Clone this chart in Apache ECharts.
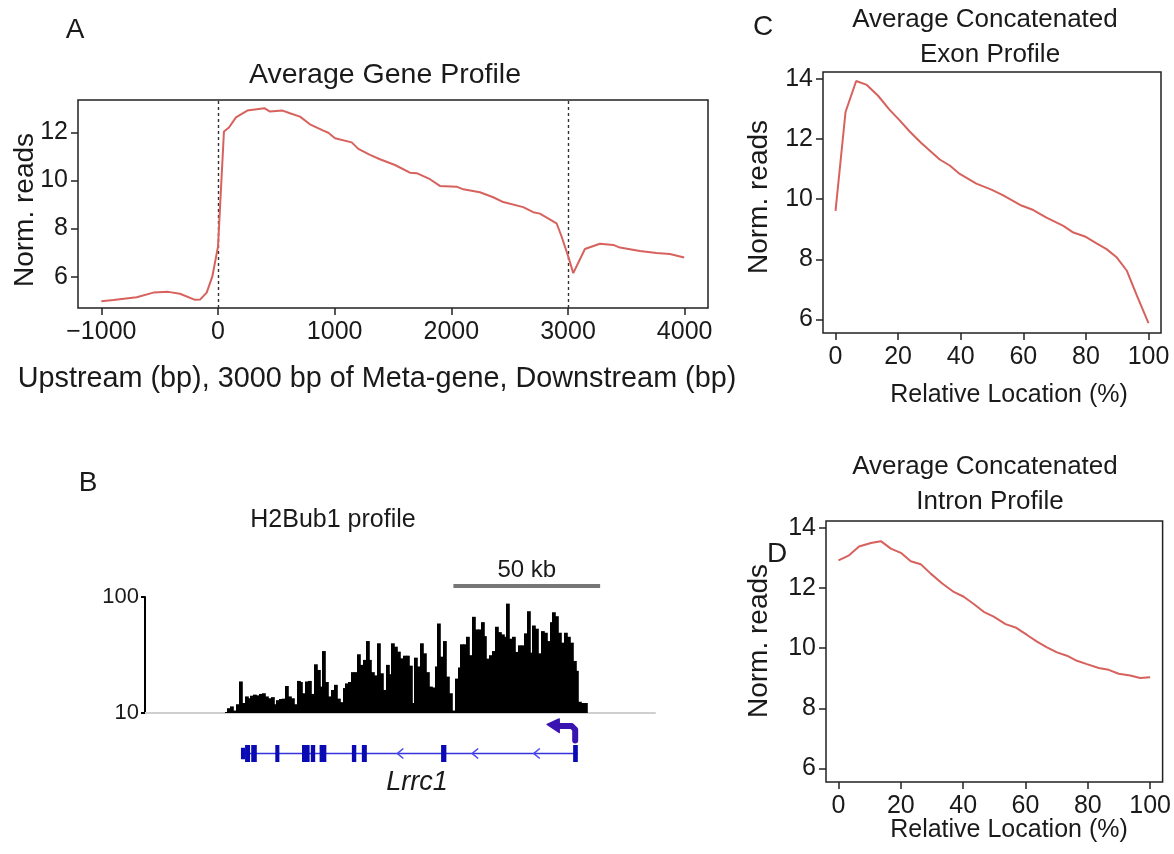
<!DOCTYPE html>
<html><head><meta charset="utf-8">
<script src="https://cdn.jsdelivr.net/npm/echarts@6/dist/echarts.min.js"></script>
<style>html,body{margin:0;padding:0;background:#fff}#c{width:1174px;height:854px}</style>
</head><body><div id="c"></div>
<script>
// ---- Panel A: Average Gene Profile ----
const geneProfileX = [-1000,-897,-697,-554,-426,-326,-197,-154,-97,-49,0,51,94,154,251,397,446,554,617,703,788,903,946,1003,1146,1203,1303,1388,1517,1645,1703,1817,1902,2045,2102,2245,2359,2445,2616,2702,2759,2902,2945,3002,3045,3145,3273,3388,3445,3616,3759,3873,3996];
const geneProfileY = [4.98,5.03,5.15,5.34,5.37,5.29,5.04,5.05,5.34,6.0,7.25,12.03,12.2,12.62,12.9,13.0,12.86,12.9,12.79,12.65,12.33,12.07,11.98,11.75,11.58,11.31,11.06,10.88,10.64,10.32,10.3,10.05,9.77,9.74,9.63,9.51,9.30,9.10,8.89,8.68,8.62,8.22,7.67,6.84,6.15,7.15,7.37,7.32,7.21,7.07,6.98,6.94,6.80];
const geneTicksX = [-1000,0,1000,2000,3000,4000];
const geneTicksY = [6,8,10,12];
const geneBoundaries = [0,3000];

// ---- Panel C: Exon profile ----
const exonX = [0,3.2,6.6,10.0,13.6,17.3,20.5,23.7,27.4,33.3,36.5,39.7,45.0,49.8,53.6,59.4,63.2,67.4,72.8,76.0,79.7,83.4,86.6,89.9,93.1,96.3,100];
const exonY = [9.61,12.9,13.93,13.80,13.44,12.97,12.62,12.25,11.87,11.32,11.12,10.84,10.52,10.32,10.13,9.79,9.64,9.39,9.11,8.89,8.76,8.53,8.34,8.06,7.62,6.79,5.88];

// ---- Panel D: Intron profile ----
const intronX = [0,3.4,6.6,10.4,13.6,16.8,20.2,23.2,26.4,29.6,33.3,37.0,40.2,43.4,46.6,49.8,53.6,56.8,60.5,63.7,66.9,70.1,73.3,76.5,79.7,83.5,86.7,89.9,93.6,96.8,100];
const intronY = [12.92,13.09,13.38,13.50,13.56,13.31,13.16,12.89,12.79,12.48,12.15,11.87,11.71,11.47,11.21,11.05,10.80,10.69,10.44,10.22,10.03,9.86,9.75,9.58,9.47,9.34,9.28,9.15,9.09,9.01,9.03];
const relTicksX = [0,20,40,60,80,100];
const relTicksY = [6,8,10,12,14];

// ---- Panel B: H2Bub1 profile track (1-kb bins, reads) ----
const trackStartKb = 27.3;
const trackBinKb = 0.98;
const trackReads = [10.2,11.0,11.4,10.5,11.9,18.7,12.2,13.9,13.4,14.1,14.4,14.2,14.6,14.8,13.9,13.4,13.7,11.9,12.9,13.2,13.3,17.1,13.9,13.4,11.9,18.9,18.5,14.8,18.7,18.9,14.6,26.3,23.5,16.9,34.2,18.5,13.9,15.8,17.5,
 13.3,12.4,16.4,18.0,18.5,22.5,22.5,32.1,26.0,28.7,41.7,28.7,22.5,21.1,39.9,22.0,15.8,26.0,21.6,39.9,37.3,33.8,29.6,31.2,31.2,25.6,12.2,30.0,25.2,39.9,32.7,22.5,16.9,16.6,25.2,59.1,30.6,41.7,20.6,14.8,10.5,19.8,
 24.7,39.1,39.1,45.4,31.5,67.5,52.5,52.5,60.7,46.0,29.4,31.5,34.2,55.4,49.8,47.6,45.4,87.7,43.7,45.4,33.6,38.3,38.3,48.6,75.4,33.1,56.8,53.3,32.7,50.8,49.2,41.7,60.7,73.9,68.3,49.2,40.4,49.2,45.4,40.4,28.1,23.1,12.5,12.2,12.2];
const trackTicks = [10,100];
const trackSpanKb = 173.8;
const scaleBarKb = [105.1,155.1];
const scaleBarLabel = '50 kb';
// Lrrc1 gene model (kb)
const exonStartKb = [32.7,34.1,36.2,44.4,53.5,56.5,59.5,70.5,73.9,100.9,145.9];
const exonEndKb   = [34.1,35.8,38.1,45.8,56.1,58.0,61.8,72.0,75.6,102.7,147.5];
const exonIsUTR   = [1,0,0,0,0,0,0,0,0,0,0];
const strandArrowKb = [86.0,111.5,132.5];
const tssKb = 146.6;
const geneName = 'Lrrc1';

const FONT = '"Liberation Sans", Arial, sans-serif';
const RED = '#d7625d';
const INK = '#1a1a1a';
const TICK_FS = 25;

const chart = echarts.init(document.getElementById('c'));
const plain = v => (v < 0 ? '\u2212' + String(-v) : String(v));

function boxGrid(left, top, width, height){
  return {left, top, width, height, show:true, borderColor:'#222', borderWidth:1.5, backgroundColor:'transparent', containLabel:false};
}
function valAxisX(gi, min, max, ticks){
  return {gridIndex:gi, type:'value', min, max,
    axisLine:{show:false, onZero:false}, splitLine:{show:false},
    axisTick:{show:true, length:7, customValues:ticks, lineStyle:{color:'#222', width:1.5}},
    axisLabel:{customValues:ticks, formatter:plain, fontSize:TICK_FS, fontFamily:FONT, color:INK, margin:12}};
}
function valAxisY(gi, min, max, ticks){
  return {gridIndex:gi, type:'value', min, max,
    axisLine:{show:false, onZero:false}, splitLine:{show:false},
    axisTick:{show:true, length:7, customValues:ticks, lineStyle:{color:'#222', width:1.5}},
    axisLabel:{customValues:ticks, formatter:plain, fontSize:TICK_FS, fontFamily:FONT, color:INK, margin:10}};
}
const pairs = (xs, ys) => xs.map((x,i)=>[x, ys[i]]);

function txt(text, x, y, size, opts){
  opts = opts || {};
  return {type:'text', x, y, rotation: opts.rot || 0, silent:true,
    style:{text, fill: opts.color || INK, fontSize:size, fontFamily:FONT, fontStyle: opts.italic ? 'italic':'normal',
      align:'center', verticalAlign:'middle', textAlign:'center', textVerticalAlign:'middle'}};
}

const option = {
  animation:false,
  backgroundColor:'#fff',
  grid:[
    boxGrid(78,100,630,208),      // 0 A
    boxGrid(823,72,338,261),      // 1 C
    boxGrid(826,521,337,261),     // 2 D
    {left:145, top:597, width:510, height:116, show:false}, // 3 B track
    {left:145, top:738, width:510, height:31, show:false},  // 4 gene model
    {left:145, top:560, width:510, height:30, show:false}   // 5 scale bar
  ],
  xAxis:[
    valAxisX(0,-1200,4200,geneTicksX),
    valAxisX(1,-4,104,relTicksX),
    valAxisX(2,-4,104,relTicksX),
    {gridIndex:3, type:'value', min:0, max:trackSpanKb, axisLine:{show:true, onZero:false, lineStyle:{color:'#cfcfcf', width:2}}, axisTick:{show:false}, axisLabel:{show:false}, splitLine:{show:false}},
    {gridIndex:4, type:'value', min:0, max:trackSpanKb, show:false},
    {gridIndex:5, type:'value', min:0, max:trackSpanKb, show:false}
  ],
  yAxis:[
    valAxisY(0,4.70,13.34,geneTicksY),
    valAxisY(1,5.55,14.23,relTicksY),
    valAxisY(2,5.55,14.23,relTicksY),
    {gridIndex:3, type:'log', logBase:10, min:10, max:100,
      axisLine:{show:true, onZero:false, lineStyle:{color:'#000', width:2}},
      axisTick:{show:true, length:4, customValues:trackTicks, lineStyle:{color:'#000', width:2}},
      axisLabel:{customValues:trackTicks, formatter:plain, fontSize:22, fontFamily:FONT, color:INK, margin:6},
      splitLine:{show:false}},
    {gridIndex:4, type:'value', min:0, max:1, show:false},
    {gridIndex:5, type:'value', min:0, max:1, show:false}
  ],
  series:[
    {type:'line', xAxisIndex:0, yAxisIndex:0, data:pairs(geneProfileX, geneProfileY), showSymbol:false, symbol:'none',
      lineStyle:{color:RED, width:2}, z:5,
      markLine:{silent:true, symbol:'none', label:{show:false},
        lineStyle:{color:'#333', type:[3,3], width:1.4},
        data: geneBoundaries.map(v=>({xAxis:v}))}},
    {type:'line', xAxisIndex:1, yAxisIndex:1, data:pairs(exonX, exonY), showSymbol:false, symbol:'none', lineStyle:{color:RED, width:2}},
    {type:'line', xAxisIndex:2, yAxisIndex:2, data:pairs(intronX, intronY), showSymbol:false, symbol:'none', lineStyle:{color:RED, width:2}},
    {type:'custom', xAxisIndex:3, yAxisIndex:3,
      data: trackReads.map((v,i)=>[trackStartKb + i*trackBinKb, v]),
      encode:{x:0, y:1},
      renderItem:(params, api)=>{
        const x0 = api.value(0), v = api.value(1);
        const base = api.coord([x0, 10]);
        const top = api.coord([x0 + trackBinKb, v]);
        return {type:'rect', shape:{x:Math.floor(base[0]), y:top[1], width:Math.ceil(top[0]-base[0])+0.8, height:base[1]-top[1]}, style:{fill:'#000', stroke:null}};
      }},
    // intron line
    {type:'custom', xAxisIndex:4, yAxisIndex:4, data:[[exonStartKb[0], exonEndKb[exonEndKb.length-1]]],
      renderItem:(params, api)=>{
        const a = api.coord([api.value(0), 0.5]), b = api.coord([api.value(1), 0.5]);
        return {type:'line', shape:{x1:a[0], y1:a[1], x2:b[0], y2:b[1]}, style:{stroke:'#3434dc', lineWidth:1.6}};
      }},
    // exons
    {type:'custom', xAxisIndex:4, yAxisIndex:4, data: exonStartKb.map((s,i)=>[s, exonEndKb[i], exonIsUTR[i]]),
      renderItem:(params, api)=>{
        const a = api.coord([api.value(0), 0.5]), b = api.coord([api.value(1), 0.5]);
        const h = api.value(2) ? 11.5 : 17;
        return {type:'rect', shape:{x:a[0], y:a[1]-h/2, width:Math.max(b[0]-a[0],3), height:h}, style:{fill:'#0a0ab4'}};
      }},
    // strand chevrons
    {type:'custom', xAxisIndex:4, yAxisIndex:4, data: strandArrowKb.map(k=>[k]),
      renderItem:(params, api)=>{
        const p = api.coord([api.value(0), 0.5]);
        return {type:'polyline', shape:{points:[[p[0]+6,p[1]-5],[p[0],p[1]],[p[0]+6,p[1]+5]]}, style:{stroke:'#4a4af0', lineWidth:1.6, fill:null}};
      }},
    // TSS bent arrow
    {type:'custom', xAxisIndex:4, yAxisIndex:4, data:[[tssKb]],
      renderItem:(params, api)=>{
        const p = api.coord([api.value(0), 0.5]);
        const c = '#3a14b0';
        return {type:'group', children:[
          {type:'polyline', shape:{points:[[p[0],p[1]-13],[p[0],p[1]-24],[p[0]-3.5,p[1]-27.5],[p[0]-18,p[1]-27.5]]}, style:{stroke:c, lineWidth:6, fill:null, lineJoin:'round', lineCap:'round'}},
          {type:'polygon', shape:{points:[[p[0]-16,p[1]-34.5],[p[0]-28,p[1]-29],[p[0]-16,p[1]-21]]}, style:{fill:c, stroke:c, lineWidth:1.5, lineJoin:'round'}}
        ]};
      }},
    // scale bar
    {type:'custom', xAxisIndex:5, yAxisIndex:5, data:[[scaleBarKb[0], scaleBarKb[1]]],
      renderItem:(params, api)=>{
        const a = api.coord([api.value(0), 0.13]), b = api.coord([api.value(1), 0.13]);
        return {type:'group', children:[
          {type:'line', shape:{x1:a[0], y1:a[1], x2:b[0], y2:b[1]}, style:{stroke:'#777', lineWidth:4}},
          {type:'text', x:(a[0]+b[0])/2, y:a[1]-16, style:{text:scaleBarLabel, fill:INK, fontSize:24, fontFamily:FONT, align:'center', verticalAlign:'middle'}}
        ]};
      }}
  ],
  graphic:[
    txt('A', 75, 30, 28),
    txt('Average Gene Profile', 385, 75, 28.5),
    txt('Norm. reads', 25, 210, 28, {rot:Math.PI/2}),
    txt('Upstream (bp), 3000 bp of Meta-gene, Downstream (bp)', 377, 379, 28.8),
    txt('B', 88, 483, 28),
    txt('H2Bub1 profile', 333, 520, 25),
    txt(geneName, 417, 782, 27, {italic:true}),
    txt('C', 763, 27, 28),
    txt('Average Concatenated', 985, 20, 26),
    txt('Exon Profile', 990, 55, 26),
    txt('Norm. reads', 759, 197, 28, {rot:Math.PI/2}),
    txt('Relative Location (%)', 1009, 395, 25),
    txt('D', 777, 554, 28),
    txt('Average Concatenated', 985, 467, 26),
    txt('Intron Profile', 990, 502, 26),
    txt('Norm. reads', 759, 641, 28, {rot:Math.PI/2}),
    txt('Relative Location (%)', 1009, 830, 25)
  ]
};
chart.setOption(option);
</script>
</body></html>
